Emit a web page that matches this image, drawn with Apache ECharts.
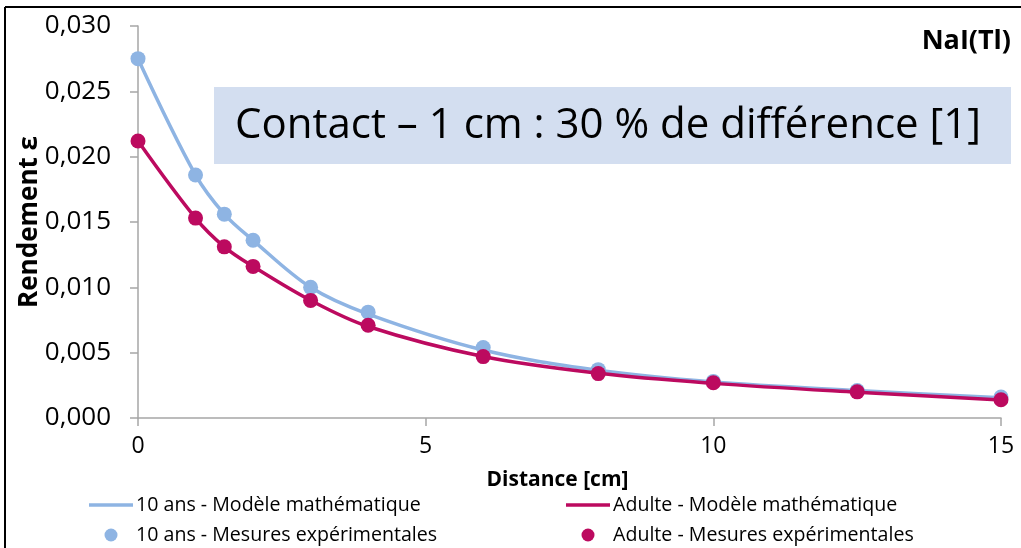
<!DOCTYPE html>
<html>
<head>
<meta charset="utf-8">
<script src="https://cdn.jsdelivr.net/npm/echarts@6/dist/echarts.min.js"></script>
<style>
  html, body { margin: 0; padding: 0; background: #fff; }
  #chart { width: 1021px; height: 548px; }
</style>
</head>
<body>
<div id="chart"></div>
<script>
// Distance from the detector face (cm)
const distances = [0, 1, 1.5, 2, 3, 4, 6, 8, 10, 12.5, 15];

// Detection efficiency, mathematical model
const model10ans   = [0.0275, 0.0186, 0.0156, 0.0136, 0.0100, 0.00795, 0.00520, 0.00365, 0.00275, 0.00210, 0.00155];
const modelAdulte  = [0.0212, 0.0153, 0.0131, 0.0116, 0.0090, 0.00700, 0.00470, 0.00342, 0.00265, 0.00197, 0.00138];

// Detection efficiency, experimental measurements
const mesures10ans  = [0.0275, 0.0186, 0.0156, 0.0136, 0.0100, 0.0081, 0.0054, 0.0037, 0.0028, 0.0021, 0.0016];
const mesuresAdulte = [0.0212, 0.0153, 0.0131, 0.0116, 0.0090, 0.0071, 0.0047, 0.0034, 0.0027, 0.0020, 0.0014];

const xTicks = [0, 5, 10, 15];
const yTicks = [0, 0.005, 0.010, 0.015, 0.020, 0.025, 0.030];

const seriesNames = [
  '10 ans - Modèle mathématique',
  'Adulte - Modèle mathématique',
  '10 ans - Mesures expérimentales',
  'Adulte - Mesures expérimentales'
];

const BLUE = '#8EB4E3';
const MAGENTA = '#BC0A5F';
const FONT = '"Open Sans", "Noto Sans", sans-serif';
const LINE_ICON = 'path://M0,0 L40,0 L40,3 L0,3 Z';

const pairs = (xs, ys) => xs.map((x, i) => [x, ys[i]]);

const legendCommon = {
  orient: 'vertical',
  top: 495,
  height: 60,
  padding: 0,
  itemWidth: 44, itemHeight: 13, itemGap: 10,
  symbolKeepAspect: true,
  textStyle: { fontFamily: FONT, fontSize: 19.6, color: '#000', padding: [0, 0, 0, -2] }
};

const chart = echarts.init(document.getElementById('chart'), null, { renderer: 'canvas' });

chart.setOption({
  backgroundColor: '#fff',
  animation: false,
  textStyle: { fontFamily: FONT },
  grid: { left: 138, top: 26, right: 20, bottom: 130, containLabel: false },
  xAxis: {
    type: 'value',
    min: xTicks[0],
    max: xTicks[xTicks.length - 1],
    interval: 5,
    name: 'Distance [cm]',
    nameLocation: 'middle',
    nameGap: 52,
    nameMoveOverlap: false,
    nameTextStyle: { fontFamily: FONT, fontWeight: 'bold', fontSize: 21, color: '#000', padding: [0, 24, 0, 0] },
    axisLine: { show: true, lineStyle: { color: '#A6A6A6', width: 1.5 } },
    axisTick: { show: true, length: 8, lineStyle: { color: '#A6A6A6', width: 1.5 } },
    axisLabel: { fontFamily: FONT, fontSize: 23, color: '#000', margin: 17 },
    splitLine: { show: false }
  },
  yAxis: {
    type: 'value',
    min: yTicks[0],
    max: yTicks[yTicks.length - 1],
    interval: 0.005,
    name: 'Rendement ε',
    nameLocation: 'middle',
    nameGap: 95,
    nameMoveOverlap: false,
    nameTextStyle: { fontFamily: FONT, fontWeight: 'bold', fontSize: 26, color: '#000' },
    axisLine: { show: true, lineStyle: { color: '#A6A6A6', width: 1.5 } },
    axisTick: { show: true, length: 8, lineStyle: { color: '#A6A6A6', width: 1.5 } },
    axisLabel: {
      fontFamily: FONT, fontSize: 26, color: '#000', margin: 27,
      formatter: v => v.toFixed(3).replace('.', ',')
    },
    splitLine: { show: false }
  },
  legend: [
    Object.assign({}, legendCommon, {
      left: 89,
      data: [{ name: seriesNames[0], icon: LINE_ICON }, { name: seriesNames[2], icon: 'circle' }]
    }),
    Object.assign({}, legendCommon, {
      left: 566,
      data: [{ name: seriesNames[1], icon: LINE_ICON }, { name: seriesNames[3], icon: 'circle' }]
    })
  ],
  series: [
    {
      name: seriesNames[0], type: 'line', smooth: 0.35,
      symbol: 'none', showSymbol: false,
      lineStyle: { color: BLUE, width: 3.5 }, itemStyle: { color: BLUE },
      data: pairs(distances, model10ans), z: 2
    },
    {
      name: seriesNames[1], type: 'line', smooth: 0.35,
      symbol: 'none', showSymbol: false,
      lineStyle: { color: MAGENTA, width: 3.5 }, itemStyle: { color: MAGENTA },
      data: pairs(distances, modelAdulte), z: 4
    },
    {
      name: seriesNames[2], type: 'scatter', symbol: 'circle', symbolSize: 15,
      itemStyle: { color: BLUE, opacity: 1 },
      data: pairs(distances, mesures10ans), z: 3
    },
    {
      name: seriesNames[3], type: 'scatter', symbol: 'circle', symbolSize: 15,
      itemStyle: { color: MAGENTA, opacity: 1 },
      data: pairs(distances, mesuresAdulte), z: 5
    }
  ],
  graphic: [
    // frame edges on the left and top
    { type: 'line', shape: { x1: 5, y1: 7, x2: 5, y2: 548 }, style: { stroke: '#000', lineWidth: 2 }, z: 10 },
    { type: 'line', shape: { x1: 5, y1: 7, x2: 1021, y2: 7 }, style: { stroke: '#000', lineWidth: 2 }, z: 10 },
    // detector label
    {
      type: 'text', right: 10, top: 28, z: 10,
      style: { text: 'NaI(Tl)', fontFamily: FONT, fontWeight: 'bold', fontSize: 27, fill: '#000' }
    },
    // highlighted annotation
    {
      type: 'group', left: 214, top: 87, z: 10,
      children: [
        { type: 'rect', shape: { x: 0, y: 0, width: 797, height: 77 }, style: { fill: '#D3DEF0' } },
        {
          type: 'text', x: 394, y: 39,
          style: {
            text: 'Contact – 1 cm : 30 % de différence [1]',
            fontFamily: FONT, fontSize: 42, fill: '#000',
            align: 'center', verticalAlign: 'middle'
          }
        }
      ]
    }
  ]
});
</script>
</body>
</html>
